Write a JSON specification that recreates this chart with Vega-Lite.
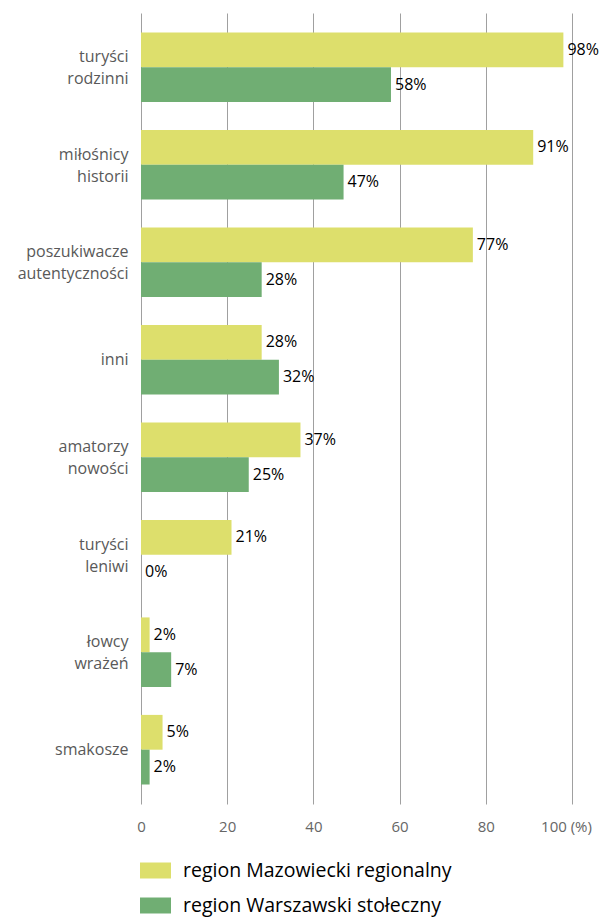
{
  "$schema": "https://vega.github.io/schema/vega-lite/v6.json",
  "width": 431,
  "height": 791,
  "autosize": {"type": "none"},
  "padding": {"left": 141, "top": 13, "right": 28, "bottom": 117},
  "background": "white",
  "config": {"view": {"stroke": null}, "font": "Open Sans"},
  "data": {
    "values": [
      {"typ": "turyści rodzinni", "region": "region Mazowiecki regionalny", "value": 98},
      {"typ": "turyści rodzinni", "region": "region Warszawski stołeczny", "value": 58},
      {"typ": "miłośnicy historii", "region": "region Mazowiecki regionalny", "value": 91},
      {"typ": "miłośnicy historii", "region": "region Warszawski stołeczny", "value": 47},
      {"typ": "poszukiwacze autentyczności", "region": "region Mazowiecki regionalny", "value": 77},
      {"typ": "poszukiwacze autentyczności", "region": "region Warszawski stołeczny", "value": 28},
      {"typ": "inni", "region": "region Mazowiecki regionalny", "value": 28},
      {"typ": "inni", "region": "region Warszawski stołeczny", "value": 32},
      {"typ": "amatorzy nowości", "region": "region Mazowiecki regionalny", "value": 37},
      {"typ": "amatorzy nowości", "region": "region Warszawski stołeczny", "value": 25},
      {"typ": "turyści leniwi", "region": "region Mazowiecki regionalny", "value": 21},
      {"typ": "turyści leniwi", "region": "region Warszawski stołeczny", "value": 0},
      {"typ": "łowcy wrażeń", "region": "region Mazowiecki regionalny", "value": 2},
      {"typ": "łowcy wrażeń", "region": "region Warszawski stołeczny", "value": 7},
      {"typ": "smakosze", "region": "region Mazowiecki regionalny", "value": 5},
      {"typ": "smakosze", "region": "region Warszawski stołeczny", "value": 2}
    ]
  },
  "transform": [{"calculate": "datum.value + '%'", "as": "lbl"}],
  "encoding": {
    "y": {
      "field": "typ",
      "type": "nominal",
      "sort": null,
      "scale": {"paddingInner": 0.286, "paddingOuter": 0.2},
      "axis": {
        "title": null,
        "domain": false,
        "ticks": false,
        "labelPadding": 13,
        "labelFontSize": 16,
        "labelColor": "#595959",
        "labelLineHeight": 22,
        "labelLimit": 200,
        "labelOffset": {"condition": {"test": "indexof(datum.value, ' ') >= 0", "value": -10}, "value": 0},
        "labelExpr": "split(datum.label, ' ')"
      }
    },
    "yOffset": {
      "field": "region",
      "type": "nominal",
      "scale": {"domain": ["region Mazowiecki regionalny", "region Warszawski stołeczny"]}
    },
    "x": {
      "field": "value",
      "type": "quantitative",
      "scale": {"domain": [0, 100]},
      "axis": {
        "title": null,
        "domain": false,
        "ticks": false,
        "grid": true,
        "gridColor": "#a0a0a0",
        "gridWidth": 1,
        "values": [0, 20, 40, 60, 80, 100],
        "labelFlush": false,
        "labelOverlap": false,
        "labelPadding": 15,
        "labelFontSize": 15,
        "labelColor": "#666666",
        "labelOffset": {"condition": {"test": "datum.value == 100", "value": -6}, "value": 0},
        "labelExpr": "datum.value == 100 ? '100 (%)' : datum.label"
      }
    }
  },
  "layer": [
    {
      "mark": {"type": "bar"},
      "encoding": {
        "color": {
          "field": "region",
          "type": "nominal",
          "scale": {
            "domain": ["region Mazowiecki regionalny", "region Warszawski stołeczny"],
            "range": ["#dddf6c", "#70ae73"]
          },
          "legend": {
            "title": null,
            "orient": "none",
            "legendX": -1,
            "legendY": 842,
            "direction": "vertical",
            "padding": 0,
            "symbolType": "M-1,-0.516H1V0.516H-1Z",
            "symbolSize": 961,
            "symbolStrokeWidth": 0,
            "symbolOpacity": 1,
            "rowPadding": 10,
            "labelOffset": 12,
            "labelFontSize": 19.5,
            "labelColor": "#000000",
            "labelLimit": 400
          }
        }
      }
    },
    {
      "mark": {"type": "text", "align": "left", "baseline": "middle", "dx": 4, "fontSize": 16, "color": "#000000"},
      "encoding": {"text": {"field": "lbl", "type": "nominal"}}
    }
  ]
}
